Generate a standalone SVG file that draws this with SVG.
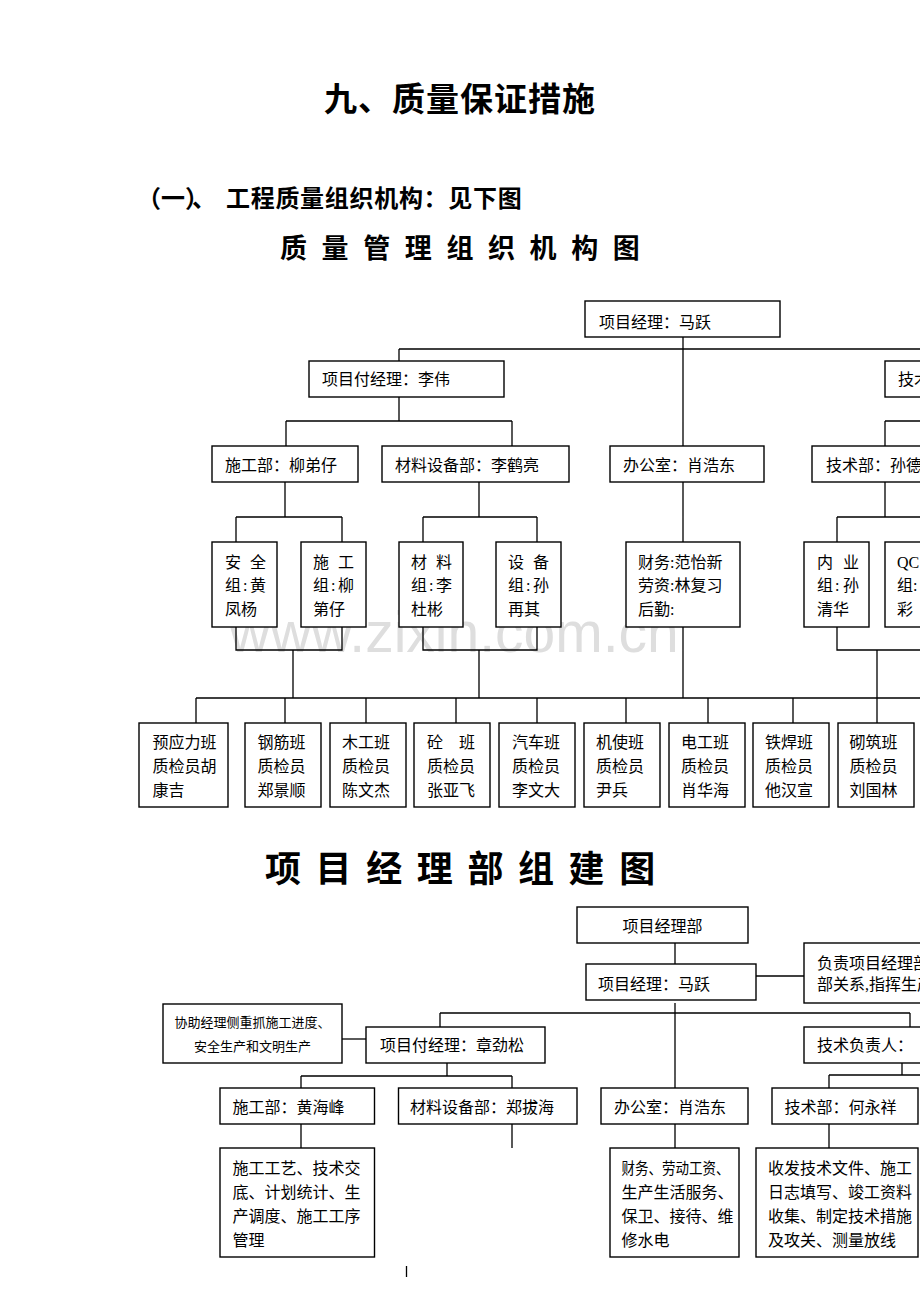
<svg xmlns="http://www.w3.org/2000/svg" width="920" height="1302" viewBox="0 0 920 1302">
<style>
.b{fill:#fff;stroke:#000;stroke-width:1.4}
.l{fill:none;stroke:#000;stroke-width:1.3}
.t{font-family:"Liberation Serif","Noto Sans CJK SC",serif;font-size:16px;fill:#000}
.s{font-size:13px}
.h{font-family:"Noto Sans CJK SC",sans-serif;font-weight:bold;fill:#000}
.wm{font-family:"Liberation Sans",sans-serif;font-size:57px;fill:#dedede}
</style>
<rect width="920" height="1302" fill="#fff"/>
<text class="wm" x="229" y="652">www.zixin.com.cn</text>

<g id="headings">
<text class="h" x="324" y="111" font-size="33" letter-spacing="1">九、质量保证措施</text>
<text class="h" x="137" y="207" font-size="24">（一）<tspan x="192">、</tspan><tspan x="226" letter-spacing="0.7">工程质量组织机构：见下图</tspan></text>
<text class="h" x="280" y="258" font-size="27" letter-spacing="14.6">质量管理组织机构图</text>
<text class="h" x="265" y="882" font-size="36" letter-spacing="14.6">项目经理部组建图</text>
</g>

<g id="connectors">
<path class="l" d="M683 337V446 M399 349H920 M399 349V361 M683 482V698 M399 397V421 M286 421H512 M286 421V446 M512 421V446 M285 482V517 M236 517H342 M236 517V542 M342 517V542 M479 482V517 M423 517H537 M423 517V542 M537 517V542 M236 627V650H342V627 M293 650V698 M423 627V650H537V627 M479 650V698 M885 421H920 M885 421V446 M885 482V517 M837 517H920 M837 517V542 M837 627V650H920 M877 650V723 M196 698H920 M196 698V723 M285 698V723 M366 698V723 M456 698V723 M537 698V723 M626 698V723 M708 698V723 M793 698V723"/>
<path class="l" d="M675 943V964 M675 1003V1088 M440 1013H910 M440 1013V1027 M910 1013V1027 M447 1063V1076 M301 1076H512 M301 1076V1088 M512 1076V1088 M902 1063V1075 M829 1075H920 M829 1075V1088 M301 1124V1148 M512 1124V1148 M675 1124V1148 M829 1124V1148 M406.5 1266V1277"/>
<path class="l" d="M756 976H804" stroke-width="2"/>
<path class="l" d="M342 1039H366" stroke-width="3"/>
</g>

<g id="c1-pm"><rect class="b" x="585" y="301" width="195" height="36"/><text class="t" x="599" y="328">项目经理：马跃</text></g>
<g id="c1-dpm"><rect class="b" x="309" y="361" width="195" height="36"/><text class="t" x="322" y="385">项目付经理：李伟</text></g>
<g id="c1-tech"><rect class="b" x="885" y="361" width="60" height="36"/><text class="t" x="898" y="385">技术</text></g>
<g id="c1-sgb"><rect class="b" x="212" y="446" width="146" height="36"/><text class="t" x="225" y="471">施工部：柳弟仔</text></g>
<g id="c1-clsb"><rect class="b" x="382" y="446" width="187" height="36"/><text class="t" x="395" y="471">材料设备部：李鹤亮</text></g>
<g id="c1-bgs"><rect class="b" x="610" y="446" width="154" height="36"/><text class="t" x="623" y="471">办公室：肖浩东</text></g>
<g id="c1-jsb"><rect class="b" x="812" y="446" width="130" height="36"/><text class="t" x="826" y="471">技术部：孙德</text></g>

<g id="c1-aq"><rect class="b" x="212" y="542" width="65" height="85"/><text class="t" y="567.5"><tspan x="225">安</tspan><tspan x="250">全</tspan></text><text class="t" y="591"><tspan x="225">组</tspan><tspan x="243">:</tspan><tspan x="250">黄</tspan></text><text class="t" x="225" y="615">凤杨</text></g>
<g id="c1-sg"><rect class="b" x="301" y="542" width="65" height="85"/><text class="t" y="567.5"><tspan x="313">施</tspan><tspan x="338">工</tspan></text><text class="t" y="591"><tspan x="313">组</tspan><tspan x="331">:</tspan><tspan x="338">柳</tspan></text><text class="t" x="313" y="615">第仔</text></g>
<g id="c1-cl"><rect class="b" x="399" y="542" width="64" height="85"/><text class="t" y="567.5"><tspan x="411">材</tspan><tspan x="436">料</tspan></text><text class="t" y="591"><tspan x="411">组</tspan><tspan x="429">:</tspan><tspan x="436">李</tspan></text><text class="t" x="411" y="615">杜彬</text></g>
<g id="c1-sb"><rect class="b" x="496" y="542" width="65" height="85"/><text class="t" y="567.5"><tspan x="508">设</tspan><tspan x="533">备</tspan></text><text class="t" y="591"><tspan x="508">组</tspan><tspan x="526">:</tspan><tspan x="533">孙</tspan></text><text class="t" x="508" y="615">再其</text></g>
<g id="c1-cw"><rect class="b" x="626" y="542" width="114" height="85"/><text class="t" x="638" y="567.5">财务:范怡新</text><text class="t" x="638" y="591">劳资:林复习</text><text class="t" x="638" y="615">后勤:</text></g>
<g id="c1-ny"><rect class="b" x="804" y="542" width="65" height="85"/><text class="t" y="567.5"><tspan x="817">内</tspan><tspan x="843">业</tspan></text><text class="t" y="591"><tspan x="817">组</tspan><tspan x="835">:</tspan><tspan x="843">孙</tspan></text><text class="t" x="817" y="615">清华</text></g>
<g id="c1-qc"><rect class="b" x="885" y="542" width="65" height="85"/><text class="t" x="897" y="567.5">QC</text><text class="t" x="897" y="591">组:</text><text class="t" x="897" y="615">彩</text></g>

<g id="c1-yyl"><rect class="b" x="139" y="723" width="89" height="84"/><text class="t" x="152.5" y="747.5">预应力班</text><text class="t" x="152.5" y="771.5">质检员胡</text><text class="t" x="152.5" y="795.5">康吉</text></g>
<g id="c1-gj"><rect class="b" x="245" y="723" width="76" height="84"/><text class="t" x="257.5" y="747.5">钢筋班</text><text class="t" x="257.5" y="771.5">质检员</text><text class="t" x="257.5" y="795.5">郑景顺</text></g>
<g id="c1-mg"><rect class="b" x="330" y="723" width="76" height="84"/><text class="t" x="342" y="747.5">木工班</text><text class="t" x="342" y="771.5">质检员</text><text class="t" x="342" y="795.5">陈文杰</text></g>
<g id="c1-t"><rect class="b" x="414" y="723" width="76" height="84"/><text class="t" y="747.5"><tspan x="427">砼</tspan><tspan x="459">班</tspan></text><text class="t" x="427" y="771.5">质检员</text><text class="t" x="427" y="795.5">张亚飞</text></g>
<g id="c1-qcb"><rect class="b" x="499" y="723" width="76" height="84"/><text class="t" x="512" y="747.5">汽车班</text><text class="t" x="512" y="771.5">质检员</text><text class="t" x="512" y="795.5">李文大</text></g>
<g id="c1-js"><rect class="b" x="584" y="723" width="76" height="84"/><text class="t" x="596" y="747.5">机使班</text><text class="t" x="596" y="771.5">质检员</text><text class="t" x="596" y="795.5">尹兵</text></g>
<g id="c1-dg"><rect class="b" x="669" y="723" width="76" height="84"/><text class="t" x="681" y="747.5">电工班</text><text class="t" x="681" y="771.5">质检员</text><text class="t" x="681" y="795.5">肖华海</text></g>
<g id="c1-th"><rect class="b" x="753" y="723" width="76" height="84"/><text class="t" x="765" y="747.5">铁焊班</text><text class="t" x="765" y="771.5">质检员</text><text class="t" x="765" y="795.5">他汉宣</text></g>
<g id="c1-qz"><rect class="b" x="838" y="723" width="76" height="84"/><text class="t" x="849.5" y="747.5">砌筑班</text><text class="t" x="849.5" y="771.5">质检员</text><text class="t" x="849.5" y="795.5">刘国林</text></g>

<g id="c2-xmb"><rect class="b" x="577" y="907" width="171" height="36"/><text class="t" x="622.5" y="932">项目经理部</text></g>
<g id="c2-pm"><rect class="b" x="586" y="964" width="170" height="36"/><text class="t" x="598" y="990">项目经理：马跃</text></g>
<g id="c2-pmnote"><rect class="b" x="804" y="943" width="140" height="60"/><text class="t" x="817" y="969">负责项目经理部</text><text class="t" x="817" y="990">部关系,指挥生产</text></g>
<g id="c2-dpmnote"><rect class="b" x="163" y="1004" width="179" height="59"/><text class="t s" x="252.5" y="1027" text-anchor="middle">协助经理侧重抓施工进度、</text><text class="t s" x="252.5" y="1051" text-anchor="middle">安全生产和文明生产</text></g>
<g id="c2-dpm"><rect class="b" x="366" y="1027" width="179" height="36"/><text class="t" x="380" y="1051">项目付经理：章劲松</text></g>
<g id="c2-tech"><rect class="b" x="804" y="1027" width="140" height="36"/><text class="t" x="817" y="1051">技术负责人：</text></g>
<g id="c2-sgb"><rect class="b" x="220" y="1088" width="154.5" height="36"/><text class="t" x="232.5" y="1112.5">施工部：黄海峰</text></g>
<g id="c2-clsb"><rect class="b" x="398.5" y="1088" width="178.5" height="36"/><text class="t" x="410" y="1112.5">材料设备部：郑拔海</text></g>
<g id="c2-bgs"><rect class="b" x="601" y="1088" width="147" height="36"/><text class="t" x="614" y="1112.5">办公室：肖浩东</text></g>
<g id="c2-jsb"><rect class="b" x="772" y="1088" width="146" height="36"/><text class="t" x="784.5" y="1112.5">技术部：何永祥</text></g>
<g id="c2-sgduty"><rect class="b" x="220" y="1148" width="154.5" height="109"/><text class="t" x="232.5" y="1174">施工工艺、技术交</text><text class="t" x="232.5" y="1198">底、计划统计、生</text><text class="t" x="232.5" y="1222">产调度、施工工序</text><text class="t" x="232.5" y="1246">管理</text></g>
<g id="c2-bgsduty"><rect class="b" x="610" y="1148" width="129" height="109"/><text class="t" x="621.5" y="1174" font-size="15.5" textLength="108" lengthAdjust="spacingAndGlyphs">财务、劳动工资、</text><text class="t" x="621.5" y="1198" font-size="15.5">生产生活服务、</text><text class="t" x="621.5" y="1222" font-size="15.5">保卫、接待、维</text><text class="t" x="621.5" y="1246" font-size="15.5">修水电</text></g>
<g id="c2-jsduty"><rect class="b" x="756" y="1148" width="162" height="109"/><text class="t" x="768" y="1174" font-size="15.4">收发技术文件、施工</text><text class="t" x="768" y="1198" font-size="15.4">日志填写、竣工资料</text><text class="t" x="768" y="1222" font-size="15.4">收集、制定技术措施</text><text class="t" x="768" y="1246" font-size="15.4">及攻关、测量放线</text></g>
</svg>
